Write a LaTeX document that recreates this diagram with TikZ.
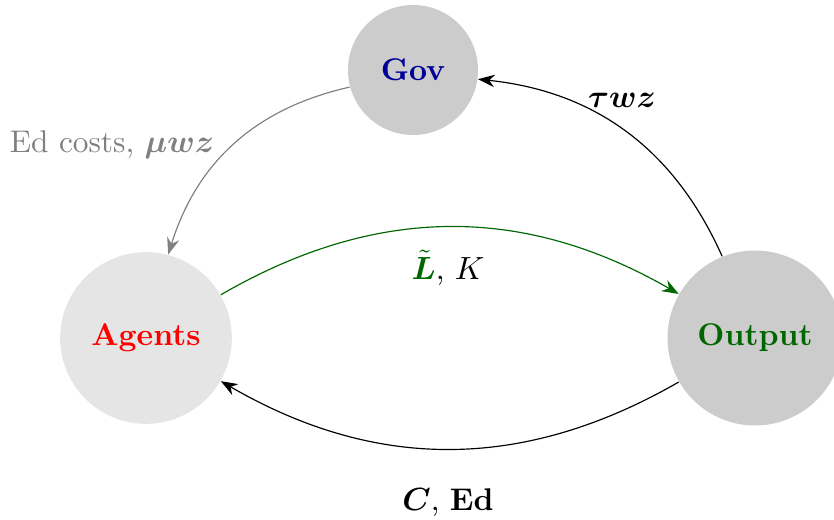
\documentclass[tikz,border=0pt]{standalone}
\usepackage{amsmath}
\usepackage{amssymb}
\usepackage{bm}
\usepackage{xcolor}
\usepackage{tikz}
\usetikzlibrary{arrows.meta}

\definecolor{govblue}{RGB}{0,0,153}
\definecolor{outgreen}{RGB}{0,102,0}

\begin{document}
\begin{tikzpicture}[
            font=\fontsize{10.7pt}{13pt}\selectfont,
            sector/.style={circle,font=\fontsize{10.7pt}{13pt}\selectfont\bfseries,inner sep=0pt},
            flow/.style={-{Stealth[length=2mm]}},
            flowlabel/.style={}
        ]
            \useasboundingbox (-1.752,-2.184) rectangle (8.256,4.056);

            % Sectors
            \node[sector,fill=gray!20,minimum size=2.06cm,text=red] (Agents) at (0,0) {Agents};
            \node[sector,fill=gray!40,minimum size=2.1cm,text=outgreen] (Output) at (7.308,0) {Output};
            \node[sector,fill=gray!40,minimum size=1.56cm,text=govblue] (Gov) at (3.204,3.216) {Gov};

            % Flows
            \draw[flow,gray] (Gov) to[bend right] (Agents);
            \draw[flow,outgreen] (Agents) to[bend left] (Output);
            \draw[flow] (Output) to[bend left] (Agents);
            \draw[flow] (Output) to[bend right] (Gov);

            % Flow labels
            \node[flowlabel,text=gray] (edcost) at (-0.408,2.316) {Ed costs, $\boldsymbol{\mu w z}$};
            \node[flowlabel] (tax) at (5.712,2.856) {$\boldsymbol{\tau w z}$};
            \node[flowlabel] (factors) at (3.624,0.84) {$\color{outgreen}\tilde{\boldsymbol{L}}$, $K$};
            \node[flowlabel] (cons) at (3.624,-1.98) {$\boldsymbol{C}$, \textbf{Ed}};
        \end{tikzpicture}
\end{document}
